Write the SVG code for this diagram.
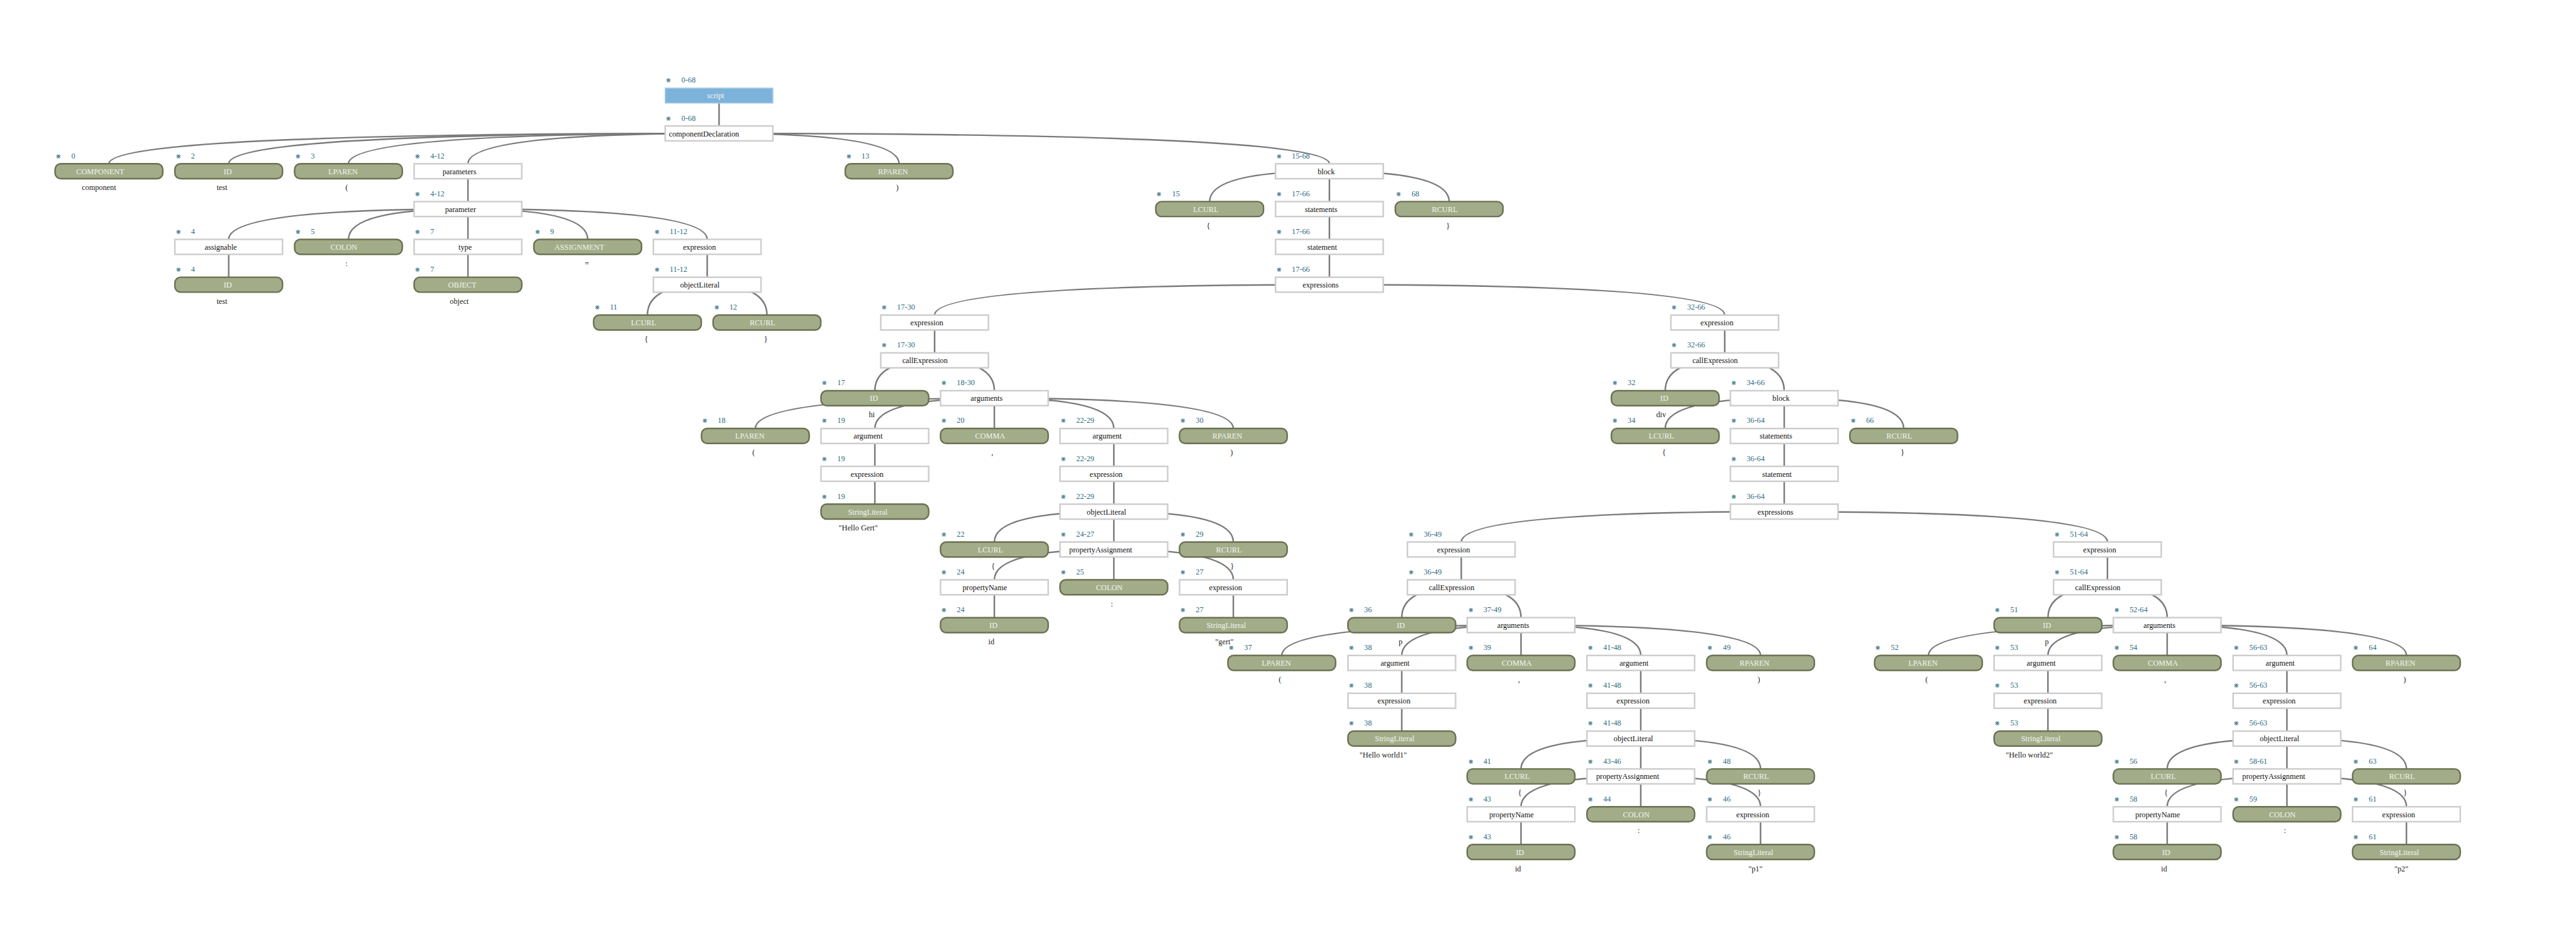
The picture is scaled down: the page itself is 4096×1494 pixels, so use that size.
<svg xmlns="http://www.w3.org/2000/svg" width="4096" height="1494" viewBox="0 0 4096 1494">
<style>
text{font-family:"Liberation Serif","Times New Roman",serif;font-size:15px}
.rule rect{fill:#ffffff;stroke:#cdcdcd;stroke-width:3}
.tok rect{fill:#a2ac89;stroke:#6b7152;stroke-width:3}
.root rect{fill:#7db3db;stroke:#a6cbe6;stroke-width:2}
.lb{fill:#111111}
.tok .lb,.root .lb{fill:#f4f5ee}
.sp{fill:#2b6a80}
.lf{fill:#222222}
#connectors path{fill:none;stroke:#7a7a7a;stroke-width:3}
</style>
<rect width="4096" height="1494" fill="#ffffff"/>
<g transform="scale(0.819)">
<g id="connectors">
<path d="M1396 185.5V244.4"/>
<path d="M1396 258.9Q211.5 258.9 211.5 317.8"/>
<path d="M1396 258.9Q444 258.9 444 317.8"/>
<path d="M1396 258.9Q676.5 258.9 676.5 317.8"/>
<path d="M1396 258.9Q908.5 258.9 908.5 317.8"/>
<path d="M1396 258.9Q1745.5 258.9 1745.5 317.8"/>
<path d="M1396 258.9Q2581 258.9 2581 317.8"/>
<path d="M908.5 332.3V391.2"/>
<path d="M2581 332.3Q2348.5 332.3 2348.5 391.2"/>
<path d="M2581 332.3V391.2"/>
<path d="M2581 332.3Q2813.5 332.3 2813.5 391.2"/>
<path d="M908.5 405.7Q444 405.7 444 464.6"/>
<path d="M908.5 405.7Q676.5 405.7 676.5 464.6"/>
<path d="M908.5 405.7V464.6"/>
<path d="M908.5 405.7Q1141 405.7 1141 464.6"/>
<path d="M908.5 405.7Q1373 405.7 1373 464.6"/>
<path d="M2581 405.7V464.6"/>
<path d="M444 479.1V538"/>
<path d="M908.5 479.1V538"/>
<path d="M1373 479.1V538"/>
<path d="M2581 479.1V538"/>
<path d="M1373 552.5Q1257 552.5 1257 611.4"/>
<path d="M1373 552.5Q1489 552.5 1489 611.4"/>
<path d="M2581 552.5Q1814.5 552.5 1814.5 611.4"/>
<path d="M2581 552.5Q3348.5 552.5 3348.5 611.4"/>
<path d="M1814.5 625.9V684.8"/>
<path d="M3348.5 625.9V684.8"/>
<path d="M1814.5 699.3Q1698.5 699.3 1698.5 758.2"/>
<path d="M1814.5 699.3Q1930.5 699.3 1930.5 758.2"/>
<path d="M3348.5 699.3Q3233 699.3 3233 758.2"/>
<path d="M3348.5 699.3Q3464 699.3 3464 758.2"/>
<path d="M1930.5 772.7Q1466.5 772.7 1466.5 831.6"/>
<path d="M1930.5 772.7Q1698.5 772.7 1698.5 831.6"/>
<path d="M1930.5 772.7V831.6"/>
<path d="M1930.5 772.7Q2162.5 772.7 2162.5 831.6"/>
<path d="M1930.5 772.7Q2394.5 772.7 2394.5 831.6"/>
<path d="M3464 772.7Q3233 772.7 3233 831.6"/>
<path d="M3464 772.7V831.6"/>
<path d="M3464 772.7Q3696 772.7 3696 831.6"/>
<path d="M1698.5 846.1V905"/>
<path d="M2162.5 846.1V905"/>
<path d="M3464 846.1V905"/>
<path d="M1698.5 919.5V978.4"/>
<path d="M2162.5 919.5V978.4"/>
<path d="M3464 919.5V978.4"/>
<path d="M2162.5 992.9Q1930.5 992.9 1930.5 1051.8"/>
<path d="M2162.5 992.9V1051.8"/>
<path d="M2162.5 992.9Q2394.5 992.9 2394.5 1051.8"/>
<path d="M3464 992.9Q2837 992.9 2837 1051.8"/>
<path d="M3464 992.9Q4091.5 992.9 4091.5 1051.8"/>
<path d="M2162.5 1066.3Q1930.5 1066.3 1930.5 1125.2"/>
<path d="M2162.5 1066.3V1125.2"/>
<path d="M2162.5 1066.3Q2394.5 1066.3 2394.5 1125.2"/>
<path d="M2837 1066.3V1125.2"/>
<path d="M4091.5 1066.3V1125.2"/>
<path d="M1930.5 1139.7V1198.6"/>
<path d="M2394.5 1139.7V1198.6"/>
<path d="M2837 1139.7Q2721.5 1139.7 2721.5 1198.6"/>
<path d="M2837 1139.7Q2953 1139.7 2953 1198.6"/>
<path d="M4091.5 1139.7Q3976 1139.7 3976 1198.6"/>
<path d="M4091.5 1139.7Q4207.5 1139.7 4207.5 1198.6"/>
<path d="M2953 1213.1Q2488.5 1213.1 2488.5 1272"/>
<path d="M2953 1213.1Q2721.5 1213.1 2721.5 1272"/>
<path d="M2953 1213.1V1272"/>
<path d="M2953 1213.1Q3185.5 1213.1 3185.5 1272"/>
<path d="M2953 1213.1Q3418 1213.1 3418 1272"/>
<path d="M4207.5 1213.1Q3744 1213.1 3744 1272"/>
<path d="M4207.5 1213.1Q3976 1213.1 3976 1272"/>
<path d="M4207.5 1213.1V1272"/>
<path d="M4207.5 1213.1Q4440 1213.1 4440 1272"/>
<path d="M4207.5 1213.1Q4672 1213.1 4672 1272"/>
<path d="M2721.5 1286.5V1345.4"/>
<path d="M3185.5 1286.5V1345.4"/>
<path d="M3976 1286.5V1345.4"/>
<path d="M4440 1286.5V1345.4"/>
<path d="M2721.5 1359.9V1418.8"/>
<path d="M3185.5 1359.9V1418.8"/>
<path d="M3976 1359.9V1418.8"/>
<path d="M4440 1359.9V1418.8"/>
<path d="M3185.5 1433.3Q2953 1433.3 2953 1492.2"/>
<path d="M3185.5 1433.3V1492.2"/>
<path d="M3185.5 1433.3Q3418 1433.3 3418 1492.2"/>
<path d="M4440 1433.3Q4207.5 1433.3 4207.5 1492.2"/>
<path d="M4440 1433.3V1492.2"/>
<path d="M4440 1433.3Q4672 1433.3 4672 1492.2"/>
<path d="M3185.5 1506.7Q2953 1506.7 2953 1565.6"/>
<path d="M3185.5 1506.7V1565.6"/>
<path d="M3185.5 1506.7Q3418 1506.7 3418 1565.6"/>
<path d="M4440 1506.7Q4207.5 1506.7 4207.5 1565.6"/>
<path d="M4440 1506.7V1565.6"/>
<path d="M4440 1506.7Q4672 1506.7 4672 1565.6"/>
<path d="M2953 1580.1V1639"/>
<path d="M3418 1580.1V1639"/>
<path d="M4207.5 1580.1V1639"/>
<path d="M4672 1580.1V1639"/>
</g>
<g id="nodes">
<g id="n00-script" class="root" transform="translate(1291.5 171)"><rect width="209" height="29"/><text class="sp" x="2" y="-10.5">⨳<tspan x="31.5">0-68</tspan></text><text class="lb" x="81.2" y="20">script</text></g>
<g id="n01-componentDeclaration" class="rule" transform="translate(1291.5 244.4)"><rect width="209" height="29"/><text class="sp" x="2" y="-10.5">⨳<tspan x="31.5">0-68</tspan></text><text class="lb" x="7" y="20">componentDeclaration</text></g>
<g id="n02-COMPONENT" class="tok" transform="translate(107 317.8)"><rect width="209" height="29" rx="11"/><text class="sp" x="2" y="-10.5">⨳<tspan x="31.5">0</tspan></text><text class="lb" x="41.1" y="20">COMPONENT</text><text class="lf" x="51.85" y="51.5">component</text></g>
<g id="n03-ID" class="tok" transform="translate(339.5 317.8)"><rect width="209" height="29" rx="11"/><text class="sp" x="2" y="-10.5">⨳<tspan x="31.5">2</tspan></text><text class="lb" x="94.75" y="20">ID</text><text class="lf" x="81.1" y="51.5">test</text></g>
<g id="n04-LPAREN" class="tok" transform="translate(572 317.8)"><rect width="209" height="29" rx="11"/><text class="sp" x="2" y="-10.5">⨳<tspan x="31.5">3</tspan></text><text class="lb" x="65.5" y="20">LPAREN</text><text class="lf" x="98.65" y="51.5">(</text></g>
<g id="n05-parameters" class="rule" transform="translate(804 317.8)"><rect width="209" height="29"/><text class="sp" x="2" y="-10.5">⨳<tspan x="31.5">4-12</tspan></text><text class="lb" x="55.2" y="20">parameters</text></g>
<g id="n06-RPAREN" class="tok" transform="translate(1641 317.8)"><rect width="209" height="29" rx="11"/><text class="sp" x="2" y="-10.5">⨳<tspan x="31.5">13</tspan></text><text class="lb" x="63.9" y="20">RPAREN</text><text class="lf" x="98.65" y="51.5">)</text></g>
<g id="n07-block" class="rule" transform="translate(2476.5 317.8)"><rect width="209" height="29"/><text class="sp" x="2" y="-10.5">⨳<tspan x="31.5">15-68</tspan></text><text class="lb" x="81.7" y="20">block</text></g>
<g id="n08-parameter" class="rule" transform="translate(804 391.2)"><rect width="209" height="29"/><text class="sp" x="2" y="-10.5">⨳<tspan x="31.5">4-12</tspan></text><text class="lb" x="60.1" y="20">parameter</text></g>
<g id="n09-LCURL" class="tok" transform="translate(2244 391.2)"><rect width="209" height="29" rx="11"/><text class="sp" x="2" y="-10.5">⨳<tspan x="31.5">15</tspan></text><text class="lb" x="72.5" y="20">LCURL</text><text class="lf" x="98.65" y="51.5">{</text></g>
<g id="n10-statements" class="rule" transform="translate(2476.5 391.2)"><rect width="209" height="29"/><text class="sp" x="2" y="-10.5">⨳<tspan x="31.5">17-66</tspan></text><text class="lb" x="56.8" y="20">statements</text></g>
<g id="n11-RCURL" class="tok" transform="translate(2709 391.2)"><rect width="209" height="29" rx="11"/><text class="sp" x="2" y="-10.5">⨳<tspan x="31.5">68</tspan></text><text class="lb" x="70.9" y="20">RCURL</text><text class="lf" x="98.65" y="51.5">}</text></g>
<g id="n12-assignable" class="rule" transform="translate(339.5 464.6)"><rect width="209" height="29"/><text class="sp" x="2" y="-10.5">⨳<tspan x="31.5">4</tspan></text><text class="lb" x="57.9" y="20">assignable</text></g>
<g id="n13-COLON" class="tok" transform="translate(572 464.6)"><rect width="209" height="29" rx="11"/><text class="sp" x="2" y="-10.5">⨳<tspan x="31.5">5</tspan></text><text class="lb" x="69.8" y="20">COLON</text><text class="lf" x="98.65" y="51.5">:</text></g>
<g id="n14-type" class="rule" transform="translate(804 464.6)"><rect width="209" height="29"/><text class="sp" x="2" y="-10.5">⨳<tspan x="31.5">7</tspan></text><text class="lb" x="86.1" y="20">type</text></g>
<g id="n15-ASSIGNMENT" class="tok" transform="translate(1036.5 464.6)"><rect width="209" height="29" rx="11"/><text class="sp" x="2" y="-10.5">⨳<tspan x="31.5">9</tspan></text><text class="lb" x="40" y="20">ASSIGNMENT</text><text class="lf" x="98.65" y="51.5">=</text></g>
<g id="n16-expression" class="rule" transform="translate(1268.5 464.6)"><rect width="209" height="29"/><text class="sp" x="2" y="-10.5">⨳<tspan x="31.5">11-12</tspan></text><text class="lb" x="57.4" y="20">expression</text></g>
<g id="n17-statement" class="rule" transform="translate(2476.5 464.6)"><rect width="209" height="29"/><text class="sp" x="2" y="-10.5">⨳<tspan x="31.5">17-66</tspan></text><text class="lb" x="61.7" y="20">statement</text></g>
<g id="n18-ID" class="tok" transform="translate(339.5 538)"><rect width="209" height="29" rx="11"/><text class="sp" x="2" y="-10.5">⨳<tspan x="31.5">4</tspan></text><text class="lb" x="94.75" y="20">ID</text><text class="lf" x="81.1" y="51.5">test</text></g>
<g id="n19-OBJECT" class="tok" transform="translate(804 538)"><rect width="209" height="29" rx="11"/><text class="sp" x="2" y="-10.5">⨳<tspan x="31.5">7</tspan></text><text class="lb" x="66" y="20">OBJECT</text><text class="lf" x="69.4" y="51.5">object</text></g>
<g id="n20-objectLiteral" class="rule" transform="translate(1268.5 538)"><rect width="209" height="29"/><text class="sp" x="2" y="-10.5">⨳<tspan x="31.5">11-12</tspan></text><text class="lb" x="51.9" y="20">objectLiteral</text></g>
<g id="n21-expressions" class="rule" transform="translate(2476.5 538)"><rect width="209" height="29"/><text class="sp" x="2" y="-10.5">⨳<tspan x="31.5">17-66</tspan></text><text class="lb" x="52.5" y="20">expressions</text></g>
<g id="n22-LCURL" class="tok" transform="translate(1152.5 611.4)"><rect width="209" height="29" rx="11"/><text class="sp" x="2" y="-10.5">⨳<tspan x="31.5">11</tspan></text><text class="lb" x="72.5" y="20">LCURL</text><text class="lf" x="98.65" y="51.5">{</text></g>
<g id="n23-RCURL" class="tok" transform="translate(1384.5 611.4)"><rect width="209" height="29" rx="11"/><text class="sp" x="2" y="-10.5">⨳<tspan x="31.5">12</tspan></text><text class="lb" x="70.9" y="20">RCURL</text><text class="lf" x="98.65" y="51.5">}</text></g>
<g id="n24-expression" class="rule" transform="translate(1710 611.4)"><rect width="209" height="29"/><text class="sp" x="2" y="-10.5">⨳<tspan x="31.5">17-30</tspan></text><text class="lb" x="57.4" y="20">expression</text></g>
<g id="n25-expression" class="rule" transform="translate(3244 611.4)"><rect width="209" height="29"/><text class="sp" x="2" y="-10.5">⨳<tspan x="31.5">32-66</tspan></text><text class="lb" x="57.4" y="20">expression</text></g>
<g id="n26-callExpression" class="rule" transform="translate(1710 684.8)"><rect width="209" height="29"/><text class="sp" x="2" y="-10.5">⨳<tspan x="31.5">17-30</tspan></text><text class="lb" x="41.7" y="20">callExpression</text></g>
<g id="n27-callExpression" class="rule" transform="translate(3244 684.8)"><rect width="209" height="29"/><text class="sp" x="2" y="-10.5">⨳<tspan x="31.5">32-66</tspan></text><text class="lb" x="41.7" y="20">callExpression</text></g>
<g id="n28-ID" class="tok" transform="translate(1594 758.2)"><rect width="209" height="29" rx="11"/><text class="sp" x="2" y="-10.5">⨳<tspan x="31.5">17</tspan></text><text class="lb" x="94.75" y="20">ID</text><text class="lf" x="92.8" y="51.5">hi</text></g>
<g id="n29-arguments" class="rule" transform="translate(1826 758.2)"><rect width="209" height="29"/><text class="sp" x="2" y="-10.5">⨳<tspan x="31.5">18-30</tspan></text><text class="lb" x="58.4" y="20">arguments</text></g>
<g id="n30-ID" class="tok" transform="translate(3128.5 758.2)"><rect width="209" height="29" rx="11"/><text class="sp" x="2" y="-10.5">⨳<tspan x="31.5">32</tspan></text><text class="lb" x="94.75" y="20">ID</text><text class="lf" x="87" y="51.5">div</text></g>
<g id="n31-block" class="rule" transform="translate(3359.5 758.2)"><rect width="209" height="29"/><text class="sp" x="2" y="-10.5">⨳<tspan x="31.5">34-66</tspan></text><text class="lb" x="81.7" y="20">block</text></g>
<g id="n32-LPAREN" class="tok" transform="translate(1362 831.6)"><rect width="209" height="29" rx="11"/><text class="sp" x="2" y="-10.5">⨳<tspan x="31.5">18</tspan></text><text class="lb" x="65.5" y="20">LPAREN</text><text class="lf" x="98.65" y="51.5">(</text></g>
<g id="n33-argument" class="rule" transform="translate(1594 831.6)"><rect width="209" height="29"/><text class="sp" x="2" y="-10.5">⨳<tspan x="31.5">19</tspan></text><text class="lb" x="63.3" y="20">argument</text></g>
<g id="n34-COMMA" class="tok" transform="translate(1826 831.6)"><rect width="209" height="29" rx="11"/><text class="sp" x="2" y="-10.5">⨳<tspan x="31.5">20</tspan></text><text class="lb" x="67.1" y="20">COMMA</text><text class="lf" x="98.65" y="51.5">,</text></g>
<g id="n35-argument" class="rule" transform="translate(2058 831.6)"><rect width="209" height="29"/><text class="sp" x="2" y="-10.5">⨳<tspan x="31.5">22-29</tspan></text><text class="lb" x="63.3" y="20">argument</text></g>
<g id="n36-RPAREN" class="tok" transform="translate(2290 831.6)"><rect width="209" height="29" rx="11"/><text class="sp" x="2" y="-10.5">⨳<tspan x="31.5">30</tspan></text><text class="lb" x="63.9" y="20">RPAREN</text><text class="lf" x="98.65" y="51.5">)</text></g>
<g id="n37-LCURL" class="tok" transform="translate(3128.5 831.6)"><rect width="209" height="29" rx="11"/><text class="sp" x="2" y="-10.5">⨳<tspan x="31.5">34</tspan></text><text class="lb" x="72.5" y="20">LCURL</text><text class="lf" x="98.65" y="51.5">{</text></g>
<g id="n38-statements" class="rule" transform="translate(3359.5 831.6)"><rect width="209" height="29"/><text class="sp" x="2" y="-10.5">⨳<tspan x="31.5">36-64</tspan></text><text class="lb" x="56.8" y="20">statements</text></g>
<g id="n39-RCURL" class="tok" transform="translate(3591.5 831.6)"><rect width="209" height="29" rx="11"/><text class="sp" x="2" y="-10.5">⨳<tspan x="31.5">66</tspan></text><text class="lb" x="70.9" y="20">RCURL</text><text class="lf" x="98.65" y="51.5">}</text></g>
<g id="n40-expression" class="rule" transform="translate(1594 905)"><rect width="209" height="29"/><text class="sp" x="2" y="-10.5">⨳<tspan x="31.5">19</tspan></text><text class="lb" x="57.4" y="20">expression</text></g>
<g id="n41-expression" class="rule" transform="translate(2058 905)"><rect width="209" height="29"/><text class="sp" x="2" y="-10.5">⨳<tspan x="31.5">22-29</tspan></text><text class="lb" x="57.4" y="20">expression</text></g>
<g id="n42-statement" class="rule" transform="translate(3359.5 905)"><rect width="209" height="29"/><text class="sp" x="2" y="-10.5">⨳<tspan x="31.5">36-64</tspan></text><text class="lb" x="61.7" y="20">statement</text></g>
<g id="n43-StringLiteral" class="tok" transform="translate(1594 978.4)"><rect width="209" height="29" rx="11"/><text class="sp" x="2" y="-10.5">⨳<tspan x="31.5">19</tspan></text><text class="lb" x="52.5" y="20">StringLiteral</text><text class="lf" x="34.3" y="51.5">"Hello Gert"</text></g>
<g id="n44-objectLiteral" class="rule" transform="translate(2058 978.4)"><rect width="209" height="29"/><text class="sp" x="2" y="-10.5">⨳<tspan x="31.5">22-29</tspan></text><text class="lb" x="51.9" y="20">objectLiteral</text></g>
<g id="n45-expressions" class="rule" transform="translate(3359.5 978.4)"><rect width="209" height="29"/><text class="sp" x="2" y="-10.5">⨳<tspan x="31.5">36-64</tspan></text><text class="lb" x="52.5" y="20">expressions</text></g>
<g id="n46-LCURL" class="tok" transform="translate(1826 1051.8)"><rect width="209" height="29" rx="11"/><text class="sp" x="2" y="-10.5">⨳<tspan x="31.5">22</tspan></text><text class="lb" x="72.5" y="20">LCURL</text><text class="lf" x="98.65" y="51.5">{</text></g>
<g id="n47-propertyAssignment" class="rule" transform="translate(2058 1051.8)"><rect width="209" height="29"/><text class="sp" x="2" y="-10.5">⨳<tspan x="31.5">24-27</tspan></text><text class="lb" x="17.8" y="20">propertyAssignment</text></g>
<g id="n48-RCURL" class="tok" transform="translate(2290 1051.8)"><rect width="209" height="29" rx="11"/><text class="sp" x="2" y="-10.5">⨳<tspan x="31.5">29</tspan></text><text class="lb" x="70.9" y="20">RCURL</text><text class="lf" x="98.65" y="51.5">}</text></g>
<g id="n49-expression" class="rule" transform="translate(2732.5 1051.8)"><rect width="209" height="29"/><text class="sp" x="2" y="-10.5">⨳<tspan x="31.5">36-49</tspan></text><text class="lb" x="57.4" y="20">expression</text></g>
<g id="n50-expression" class="rule" transform="translate(3987 1051.8)"><rect width="209" height="29"/><text class="sp" x="2" y="-10.5">⨳<tspan x="31.5">51-64</tspan></text><text class="lb" x="57.4" y="20">expression</text></g>
<g id="n51-propertyName" class="rule" transform="translate(1826 1125.2)"><rect width="209" height="29"/><text class="sp" x="2" y="-10.5">⨳<tspan x="31.5">24</tspan></text><text class="lb" x="42.7" y="20">propertyName</text></g>
<g id="n52-COLON" class="tok" transform="translate(2058 1125.2)"><rect width="209" height="29" rx="11"/><text class="sp" x="2" y="-10.5">⨳<tspan x="31.5">25</tspan></text><text class="lb" x="69.8" y="20">COLON</text><text class="lf" x="98.65" y="51.5">:</text></g>
<g id="n53-expression" class="rule" transform="translate(2290 1125.2)"><rect width="209" height="29"/><text class="sp" x="2" y="-10.5">⨳<tspan x="31.5">27</tspan></text><text class="lb" x="57.4" y="20">expression</text></g>
<g id="n54-callExpression" class="rule" transform="translate(2732.5 1125.2)"><rect width="209" height="29"/><text class="sp" x="2" y="-10.5">⨳<tspan x="31.5">36-49</tspan></text><text class="lb" x="41.7" y="20">callExpression</text></g>
<g id="n55-callExpression" class="rule" transform="translate(3987 1125.2)"><rect width="209" height="29"/><text class="sp" x="2" y="-10.5">⨳<tspan x="31.5">51-64</tspan></text><text class="lb" x="41.7" y="20">callExpression</text></g>
<g id="n56-ID" class="tok" transform="translate(1826 1198.6)"><rect width="209" height="29" rx="11"/><text class="sp" x="2" y="-10.5">⨳<tspan x="31.5">24</tspan></text><text class="lb" x="94.75" y="20">ID</text><text class="lf" x="92.8" y="51.5">id</text></g>
<g id="n57-StringLiteral" class="tok" transform="translate(2290 1198.6)"><rect width="209" height="29" rx="11"/><text class="sp" x="2" y="-10.5">⨳<tspan x="31.5">27</tspan></text><text class="lb" x="52.5" y="20">StringLiteral</text><text class="lf" x="69.4" y="51.5">"gert"</text></g>
<g id="n58-ID" class="tok" transform="translate(2617 1198.6)"><rect width="209" height="29" rx="11"/><text class="sp" x="2" y="-10.5">⨳<tspan x="31.5">36</tspan></text><text class="lb" x="94.75" y="20">ID</text><text class="lf" x="98.65" y="51.5">p</text></g>
<g id="n59-arguments" class="rule" transform="translate(2848.5 1198.6)"><rect width="209" height="29"/><text class="sp" x="2" y="-10.5">⨳<tspan x="31.5">37-49</tspan></text><text class="lb" x="58.4" y="20">arguments</text></g>
<g id="n60-ID" class="tok" transform="translate(3871.5 1198.6)"><rect width="209" height="29" rx="11"/><text class="sp" x="2" y="-10.5">⨳<tspan x="31.5">51</tspan></text><text class="lb" x="94.75" y="20">ID</text><text class="lf" x="98.65" y="51.5">p</text></g>
<g id="n61-arguments" class="rule" transform="translate(4103 1198.6)"><rect width="209" height="29"/><text class="sp" x="2" y="-10.5">⨳<tspan x="31.5">52-64</tspan></text><text class="lb" x="58.4" y="20">arguments</text></g>
<g id="n62-LPAREN" class="tok" transform="translate(2384 1272)"><rect width="209" height="29" rx="11"/><text class="sp" x="2" y="-10.5">⨳<tspan x="31.5">37</tspan></text><text class="lb" x="65.5" y="20">LPAREN</text><text class="lf" x="98.65" y="51.5">(</text></g>
<g id="n63-argument" class="rule" transform="translate(2617 1272)"><rect width="209" height="29"/><text class="sp" x="2" y="-10.5">⨳<tspan x="31.5">38</tspan></text><text class="lb" x="63.3" y="20">argument</text></g>
<g id="n64-COMMA" class="tok" transform="translate(2848.5 1272)"><rect width="209" height="29" rx="11"/><text class="sp" x="2" y="-10.5">⨳<tspan x="31.5">39</tspan></text><text class="lb" x="67.1" y="20">COMMA</text><text class="lf" x="98.65" y="51.5">,</text></g>
<g id="n65-argument" class="rule" transform="translate(3081 1272)"><rect width="209" height="29"/><text class="sp" x="2" y="-10.5">⨳<tspan x="31.5">41-48</tspan></text><text class="lb" x="63.3" y="20">argument</text></g>
<g id="n66-RPAREN" class="tok" transform="translate(3313.5 1272)"><rect width="209" height="29" rx="11"/><text class="sp" x="2" y="-10.5">⨳<tspan x="31.5">49</tspan></text><text class="lb" x="63.9" y="20">RPAREN</text><text class="lf" x="98.65" y="51.5">)</text></g>
<g id="n67-LPAREN" class="tok" transform="translate(3639.5 1272)"><rect width="209" height="29" rx="11"/><text class="sp" x="2" y="-10.5">⨳<tspan x="31.5">52</tspan></text><text class="lb" x="65.5" y="20">LPAREN</text><text class="lf" x="98.65" y="51.5">(</text></g>
<g id="n68-argument" class="rule" transform="translate(3871.5 1272)"><rect width="209" height="29"/><text class="sp" x="2" y="-10.5">⨳<tspan x="31.5">53</tspan></text><text class="lb" x="63.3" y="20">argument</text></g>
<g id="n69-COMMA" class="tok" transform="translate(4103 1272)"><rect width="209" height="29" rx="11"/><text class="sp" x="2" y="-10.5">⨳<tspan x="31.5">54</tspan></text><text class="lb" x="67.1" y="20">COMMA</text><text class="lf" x="98.65" y="51.5">,</text></g>
<g id="n70-argument" class="rule" transform="translate(4335.5 1272)"><rect width="209" height="29"/><text class="sp" x="2" y="-10.5">⨳<tspan x="31.5">56-63</tspan></text><text class="lb" x="63.3" y="20">argument</text></g>
<g id="n71-RPAREN" class="tok" transform="translate(4567.5 1272)"><rect width="209" height="29" rx="11"/><text class="sp" x="2" y="-10.5">⨳<tspan x="31.5">64</tspan></text><text class="lb" x="63.9" y="20">RPAREN</text><text class="lf" x="98.65" y="51.5">)</text></g>
<g id="n72-expression" class="rule" transform="translate(2617 1345.4)"><rect width="209" height="29"/><text class="sp" x="2" y="-10.5">⨳<tspan x="31.5">38</tspan></text><text class="lb" x="57.4" y="20">expression</text></g>
<g id="n73-expression" class="rule" transform="translate(3081 1345.4)"><rect width="209" height="29"/><text class="sp" x="2" y="-10.5">⨳<tspan x="31.5">41-48</tspan></text><text class="lb" x="57.4" y="20">expression</text></g>
<g id="n74-expression" class="rule" transform="translate(3871.5 1345.4)"><rect width="209" height="29"/><text class="sp" x="2" y="-10.5">⨳<tspan x="31.5">53</tspan></text><text class="lb" x="57.4" y="20">expression</text></g>
<g id="n75-expression" class="rule" transform="translate(4335.5 1345.4)"><rect width="209" height="29"/><text class="sp" x="2" y="-10.5">⨳<tspan x="31.5">56-63</tspan></text><text class="lb" x="57.4" y="20">expression</text></g>
<g id="n76-StringLiteral" class="tok" transform="translate(2617 1418.8)"><rect width="209" height="29" rx="11"/><text class="sp" x="2" y="-10.5">⨳<tspan x="31.5">38</tspan></text><text class="lb" x="52.5" y="20">StringLiteral</text><text class="lf" x="22.6" y="51.5">"Hello world1"</text></g>
<g id="n77-objectLiteral" class="rule" transform="translate(3081 1418.8)"><rect width="209" height="29"/><text class="sp" x="2" y="-10.5">⨳<tspan x="31.5">41-48</tspan></text><text class="lb" x="51.9" y="20">objectLiteral</text></g>
<g id="n78-StringLiteral" class="tok" transform="translate(3871.5 1418.8)"><rect width="209" height="29" rx="11"/><text class="sp" x="2" y="-10.5">⨳<tspan x="31.5">53</tspan></text><text class="lb" x="52.5" y="20">StringLiteral</text><text class="lf" x="22.6" y="51.5">"Hello world2"</text></g>
<g id="n79-objectLiteral" class="rule" transform="translate(4335.5 1418.8)"><rect width="209" height="29"/><text class="sp" x="2" y="-10.5">⨳<tspan x="31.5">56-63</tspan></text><text class="lb" x="51.9" y="20">objectLiteral</text></g>
<g id="n80-LCURL" class="tok" transform="translate(2848.5 1492.2)"><rect width="209" height="29" rx="11"/><text class="sp" x="2" y="-10.5">⨳<tspan x="31.5">41</tspan></text><text class="lb" x="72.5" y="20">LCURL</text><text class="lf" x="98.65" y="51.5">{</text></g>
<g id="n81-propertyAssignment" class="rule" transform="translate(3081 1492.2)"><rect width="209" height="29"/><text class="sp" x="2" y="-10.5">⨳<tspan x="31.5">43-46</tspan></text><text class="lb" x="17.8" y="20">propertyAssignment</text></g>
<g id="n82-RCURL" class="tok" transform="translate(3313.5 1492.2)"><rect width="209" height="29" rx="11"/><text class="sp" x="2" y="-10.5">⨳<tspan x="31.5">48</tspan></text><text class="lb" x="70.9" y="20">RCURL</text><text class="lf" x="98.65" y="51.5">}</text></g>
<g id="n83-LCURL" class="tok" transform="translate(4103 1492.2)"><rect width="209" height="29" rx="11"/><text class="sp" x="2" y="-10.5">⨳<tspan x="31.5">56</tspan></text><text class="lb" x="72.5" y="20">LCURL</text><text class="lf" x="98.65" y="51.5">{</text></g>
<g id="n84-propertyAssignment" class="rule" transform="translate(4335.5 1492.2)"><rect width="209" height="29"/><text class="sp" x="2" y="-10.5">⨳<tspan x="31.5">58-61</tspan></text><text class="lb" x="17.8" y="20">propertyAssignment</text></g>
<g id="n85-RCURL" class="tok" transform="translate(4567.5 1492.2)"><rect width="209" height="29" rx="11"/><text class="sp" x="2" y="-10.5">⨳<tspan x="31.5">63</tspan></text><text class="lb" x="70.9" y="20">RCURL</text><text class="lf" x="98.65" y="51.5">}</text></g>
<g id="n86-propertyName" class="rule" transform="translate(2848.5 1565.6)"><rect width="209" height="29"/><text class="sp" x="2" y="-10.5">⨳<tspan x="31.5">43</tspan></text><text class="lb" x="42.7" y="20">propertyName</text></g>
<g id="n87-COLON" class="tok" transform="translate(3081 1565.6)"><rect width="209" height="29" rx="11"/><text class="sp" x="2" y="-10.5">⨳<tspan x="31.5">44</tspan></text><text class="lb" x="69.8" y="20">COLON</text><text class="lf" x="98.65" y="51.5">:</text></g>
<g id="n88-expression" class="rule" transform="translate(3313.5 1565.6)"><rect width="209" height="29"/><text class="sp" x="2" y="-10.5">⨳<tspan x="31.5">46</tspan></text><text class="lb" x="57.4" y="20">expression</text></g>
<g id="n89-propertyName" class="rule" transform="translate(4103 1565.6)"><rect width="209" height="29"/><text class="sp" x="2" y="-10.5">⨳<tspan x="31.5">58</tspan></text><text class="lb" x="42.7" y="20">propertyName</text></g>
<g id="n90-COLON" class="tok" transform="translate(4335.5 1565.6)"><rect width="209" height="29" rx="11"/><text class="sp" x="2" y="-10.5">⨳<tspan x="31.5">59</tspan></text><text class="lb" x="69.8" y="20">COLON</text><text class="lf" x="98.65" y="51.5">:</text></g>
<g id="n91-expression" class="rule" transform="translate(4567.5 1565.6)"><rect width="209" height="29"/><text class="sp" x="2" y="-10.5">⨳<tspan x="31.5">61</tspan></text><text class="lb" x="57.4" y="20">expression</text></g>
<g id="n92-ID" class="tok" transform="translate(2848.5 1639)"><rect width="209" height="29" rx="11"/><text class="sp" x="2" y="-10.5">⨳<tspan x="31.5">43</tspan></text><text class="lb" x="94.75" y="20">ID</text><text class="lf" x="92.8" y="51.5">id</text></g>
<g id="n93-StringLiteral" class="tok" transform="translate(3313.5 1639)"><rect width="209" height="29" rx="11"/><text class="sp" x="2" y="-10.5">⨳<tspan x="31.5">46</tspan></text><text class="lb" x="52.5" y="20">StringLiteral</text><text class="lf" x="81.1" y="51.5">"p1"</text></g>
<g id="n94-ID" class="tok" transform="translate(4103 1639)"><rect width="209" height="29" rx="11"/><text class="sp" x="2" y="-10.5">⨳<tspan x="31.5">58</tspan></text><text class="lb" x="94.75" y="20">ID</text><text class="lf" x="92.8" y="51.5">id</text></g>
<g id="n95-StringLiteral" class="tok" transform="translate(4567.5 1639)"><rect width="209" height="29" rx="11"/><text class="sp" x="2" y="-10.5">⨳<tspan x="31.5">61</tspan></text><text class="lb" x="52.5" y="20">StringLiteral</text><text class="lf" x="81.1" y="51.5">"p2"</text></g>
</g>
</g>
</svg>
